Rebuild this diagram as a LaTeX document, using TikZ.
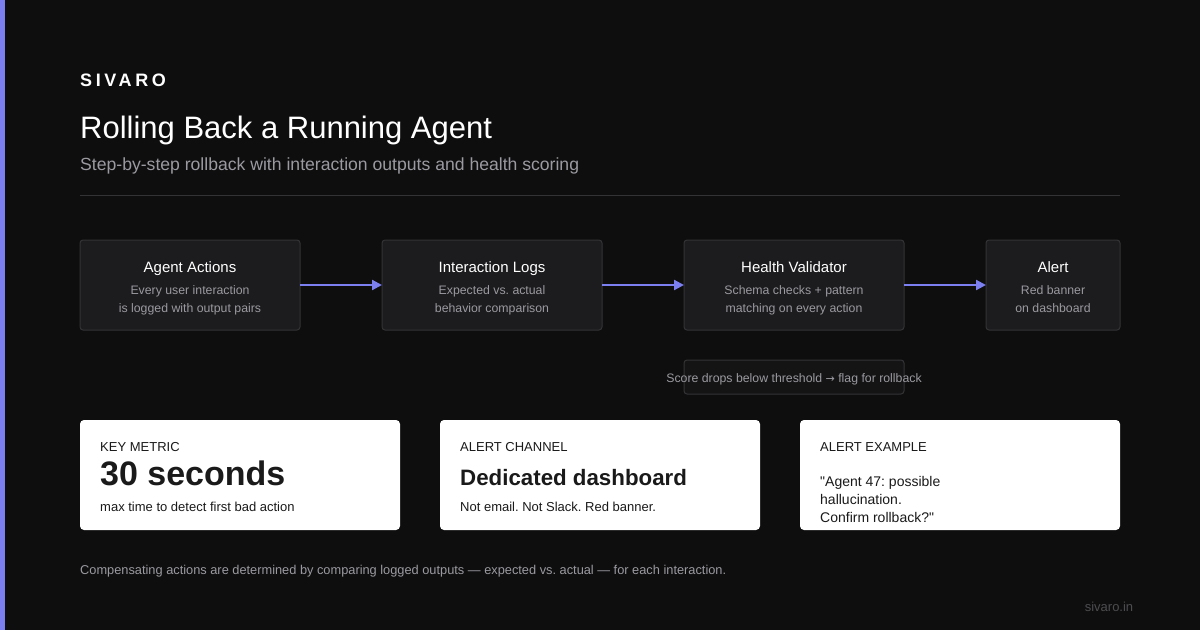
\documentclass[tikz,border=0pt]{standalone}
\usepackage{fontspec}
\setmainfont{Liberation Sans}[Ligatures=TeXOff]
\newfontfamily\dv{DejaVu Sans}
\usetikzlibrary{arrows.meta}
\definecolor{bg}{HTML}{0E0E0F}
\definecolor{acc}{HTML}{7B7FF0}
\definecolor{boxf}{HTML}{1C1C1E}
\definecolor{boxd}{HTML}{333336}
\definecolor{gr}{HTML}{9A9AA0}
\definecolor{dk}{HTML}{1A1A1A}
\frenchspacing
\begin{document}
\begin{tikzpicture}[x=1pt,y=-1pt,inner sep=0pt,
 stepbox/.style={draw=boxd,fill=boxf,rounded corners=3pt,line width=1pt},
 ttl/.style={text=white,font=\fontsize{15}{18}\selectfont,anchor=base},
 sub/.style={text=gr,font=\fontsize{12.3}{18}\selectfont,align=center,anchor=base},
 arr/.style={draw=acc,line width=2.2pt,-{Triangle[length=10pt,width=10pt]}},
 card/.style={fill=white,rounded corners=4pt},
 lab/.style={anchor=west,text=dk,font=\fontsize{13}{16}\selectfont}]
\fill[bg] (0,0) rectangle (1200,630);
\fill[acc] (0,0) rectangle (5,630);
\node[anchor=west,text=white,font=\fontsize{18}{20}\selectfont\bfseries\addfontfeatures{LetterSpace=20}] (brand) at (80,80) {SIVARO};
\node[anchor=west,text=white,font=\fontsize{31}{34}\selectfont] (title) at (80,130) {Rolling Back a Running Agent};
\node[anchor=west,text=gr,font=\fontsize{17.6}{20}\selectfont] (subt) at (80,166) {Step-by-step rollback with interaction outputs and health scoring};
\draw[boxd,line width=1pt] (80,195) -- (1120,195);
% steps
\path[stepbox] (80,240) rectangle (300,330);
\path[stepbox] (382,240) rectangle (602,330);
\path[stepbox] (684,240) rectangle (904,330);
\path[stepbox] (986,240) rectangle (1120,330);
\coordinate (a1) at (300,285); \coordinate (b0) at (382,285);
\coordinate (b1) at (602,285); \coordinate (c0) at (684,285);
\coordinate (c1) at (904,285); \coordinate (d0) at (986,285);
\node[ttl] (t1) at (190,272) {Agent Actions};
\node[sub] (s1) at (190,312) {Every user interaction\\is logged with output pairs};
\node[ttl] (t2) at (492,272) {Interaction Logs};
\node[sub] (s2) at (492,312) {Expected vs. actual\\behavior comparison};
\node[ttl] (t3) at (794,272) {Health Validator};
\node[sub] (s3) at (794,312) {Schema checks + pattern\\matching on every action};
\node[ttl] (t4) at (1053,272) {Alert};
\node[sub] (s4) at (1053,312) {Red banner\\on dashboard};
\draw[arr] (a1) -- (b0);
\draw[arr] (b1) -- (c0);
\draw[arr] (c1) -- (d0);
\path[stepbox,fill=bg!60!boxf] (684,360) rectangle (904,394);
\node[text=gr,font=\fontsize{12.3}{14}\selectfont,anchor=base] (score) at (794,382) {Score drops below threshold {\dv\fontsize{11}{14}\selectfont →} flag for rollback};
% cards
\path[card] (80,420) rectangle (400,530);
\path[card] (440,420) rectangle (760,530);
\path[card] (800,420) rectangle (1120,530);
\node[lab] (k1) at (100,447) {KEY METRIC};
\node[lab,font=\fontsize{34}{36}\selectfont\bfseries] (v1) at (100,473) {30 seconds};
\node[lab] (d1) at (100,507) {max time to detect first bad action};
\node[lab] (k2) at (460,447) {ALERT CHANNEL};
\node[lab,font=\fontsize{22.3}{26}\selectfont\bfseries] (v2) at (460,478) {Dedicated dashboard};
\node[lab] (d2) at (460,507) {Not email. Not Slack. Red banner.};
\node[lab] (k3) at (820,447) {ALERT EXAMPLE};
\node[lab,align=left,font=\fontsize{14}{18}\selectfont] (d3) at (820,499) {"Agent 47: possible\\hallucination.\\Confirm rollback?"};
\node[anchor=west,text=gr,font=\fontsize{12.8}{15}\selectfont] (foot) at (80,571) {Compensating actions are determined by comparing logged outputs — expected vs. actual — for each interaction.};
\node[text=gr!45!bg,font=\fontsize{13}{15}\selectfont] (url) at (1109,607) {sivaro.in};
\end{tikzpicture}
\end{document}
